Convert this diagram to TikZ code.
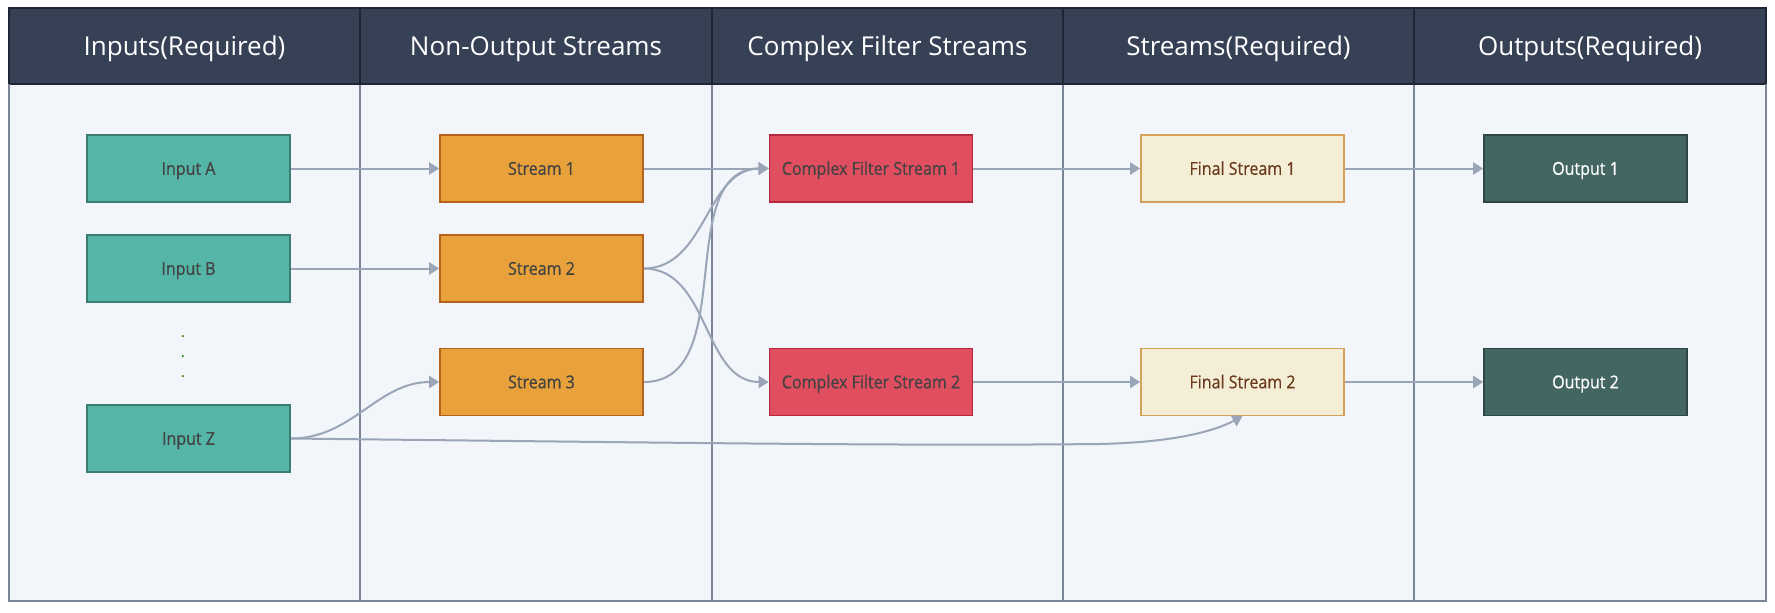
\documentclass[tikz,border=0pt]{standalone}
\usepackage{fontspec}
\setmainfont{Open Sans}
\newfontfamily\boxfont{Open Sans}[FakeStretch=0.9,FakeBold=0.6]
\usetikzlibrary{arrows.meta}
\definecolor{lanebg}{HTML}{F2F5FA}
\definecolor{framec}{HTML}{7B8598}
\definecolor{hdrbg}{HTML}{364156}
\definecolor{hdrline}{HTML}{1E2635}
\definecolor{tealf}{HTML}{55B5A6}
\definecolor{teald}{HTML}{3B7D72}
\definecolor{orangef}{HTML}{E8A13B}
\definecolor{oranged}{HTML}{B5621D}
\definecolor{redf}{HTML}{E04E5F}
\definecolor{redd}{HTML}{B22A3C}
\definecolor{finf}{HTML}{F5EED7}
\definecolor{find}{HTML}{D4A05A}
\definecolor{fintxt}{HTML}{6B3A1C}
\definecolor{outf}{HTML}{436662}
\definecolor{outd}{HTML}{2E4745}
\definecolor{boxtxt}{HTML}{434343}
\definecolor{edgec}{HTML}{9AA5B7}
\definecolor{dotc}{HTML}{4C8C2C}
\begin{document}
\begin{tikzpicture}[x=0.5pt,y=-0.5pt,
  box/.style={draw, line width=0.8pt, minimum width=101.5pt, minimum height=33.5pt,
    inner sep=0pt, text height=6.3pt, text depth=0pt,
    font=\boxfont\fontsize{8.9}{10}\selectfont, text=boxtxt},
  inbox/.style={box, fill=tealf, draw=teald},
  strbox/.style={box, fill=orangef, draw=oranged},
  cfbox/.style={box, fill=redf, draw=redd},
  finbox/.style={box, fill=finf, draw=find, text=fintxt},
  outbox/.style={box, fill=outf, draw=outd, text=white},
  hdr/.style={text=white, inner sep=0pt, text height=9.2pt, text depth=0pt,
    font=\fontsize{13}{15}\selectfont},
  dotmark/.style={text=dotc, font=\fontsize{8.75}{10}\selectfont, anchor=base, inner sep=0pt},
  link/.style={draw=edgec, line width=1pt, -{Triangle[length=5pt,width=6pt]}}
]
\useasboundingbox (0,0) rectangle (1775,612);
\fill[white] (0,0) rectangle (1775,612);
% lanes
\fill[lanebg] (9,8) rectangle (1766,601);
\fill[hdrbg] (9,8) rectangle (1766,84);
\foreach \x in {360,712,1063,1414} {
  \draw[framec, line width=1pt] (\x,84) -- (\x,601);
  \draw[hdrline, line width=1pt] (\x,8) -- (\x,84);
}
\draw[hdrline, line width=1pt] (9,84) -- (1766,84);
\draw[framec, line width=1pt] (9,84) -- (9,601) -- (1766,601) -- (1766,84);
\draw[hdrline, line width=1pt] (9,84) -- (9,8) -- (1766,8) -- (1766,84);
% headers
\node[hdr] (h1) at (184.5,46) {Inputs(Required)};
\node[hdr] (h2) at (536,46) {Non-Output Streams};
\node[hdr] (h3) at (887.5,46) {Complex Filter Streams};
\node[hdr] (h4) at (1238.5,46) {Streams(Required)};
\node[hdr] (h5) at (1590,46) {Outputs(Required)};
% nodes
\node[inbox] (ia) at (188.5,168.5) {Input A};
\node[inbox] (ib) at (188.5,268.5) {Input B};
\node[inbox] (iz) at (188.5,438.5) {Input Z};
\node[dotmark] (d1) at (183,337) {.};
\node[dotmark] (d2) at (183,357) {.};
\node[dotmark] (d3) at (183,377) {.};
\node[strbox] (s1) at (541.5,168.5) {Stream 1};
\node[strbox] (s2) at (541.5,268.5) {Stream 2};
\node[strbox] (s3) at (541.5,382) {Stream 3};
\node[cfbox] (c1) at (871,168.5) {Complex Filter Stream 1};
\node[cfbox] (c2) at (871,382) {Complex Filter Stream 2};
\node[finbox] (f1) at (1242.5,168.5) {Final Stream 1};
\node[finbox] (f2) at (1242.5,382) {Final Stream 2};
\node[outbox] (o1) at (1585.5,168.5) {Output 1};
\node[outbox] (o2) at (1585.5,382) {Output 2};
% connectors
\draw[link] (ia) -- (s1);
\draw[link] (ib) -- (s2);
\draw[link] (iz.east) to[out=0,in=180] (s3.west);
\draw[link] (iz.east) .. controls (700,443) and (900,446) .. (1100,444)
   .. controls (1185,442) and (1220,428) .. (f2.south);
\draw[link] (s1) -- (c1);
\draw[link] (s2.east) to[out=0,in=180] (c1.west);
\draw[link] (s3.east) to[out=0,in=180] (c1.west);
\draw[link] (s2.east) to[out=0,in=180] (c2.west);
\draw[link] (c1) -- (f1);
\draw[link] (c2) -- (f2);
\draw[link] (f1) -- (o1);
\draw[link] (f2) -- (o2);
\end{tikzpicture}
\end{document}
